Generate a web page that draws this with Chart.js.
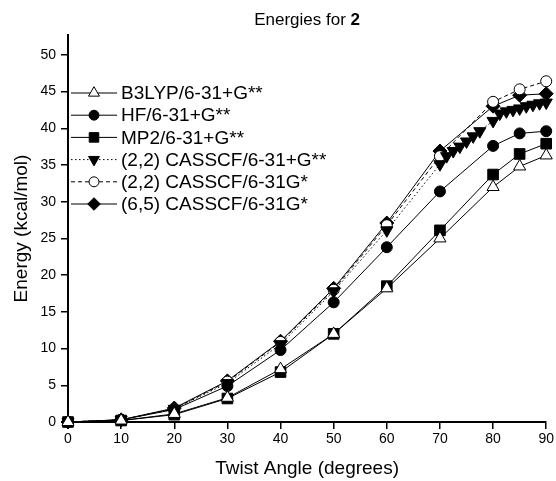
<!DOCTYPE html>
<html>
<head>
<meta charset="utf-8">
<script src="https://cdn.jsdelivr.net/npm/chart.js@4"></script>
<style>
  body { margin: 0; background: #fff; }
</style>
</head>
<body>
<canvas id="chartCanvas" width="556" height="481"></canvas>
<script>
// twist angles (degrees)
const angles = [0, 10, 20, 30, 40, 50, 60, 70, 80, 85, 90];
const anglesFine = [0, 10, 20, 30, 40, 50, 60, 70, 71.25, 72.5, 73.75, 75, 76.25, 77.5,
  80, 81.25, 82.5, 83.75, 85, 86.25, 87.5, 88.75, 90];

// energies, kcal/mol
const b3lyp = [0, 0.2, 1.1, 3.3, 7.2, 12.0, 18.2, 25.0, 32.0, 34.8, 36.3];
const hf = [0, 0.3, 1.7, 4.9, 9.8, 16.3, 23.8, 31.4, 37.6, 39.3, 39.6];
const mp2 = [0, 0.2, 1.0, 3.2, 6.8, 12.0, 18.5, 26.1, 33.7, 36.5, 37.9];
const cas22plus = [0, 0.3, 1.8, 5.3, 10.6, 17.8, 26.1, 35.1, 36.2, 36.9, 37.5, 38.2, 38.9, 39.6,
  41.0, 42.0, 42.3, 42.5, 42.7, 43.0, 43.2, 43.4, 43.5];
const cas22 = [0, 0.3, 1.8, 5.5, 10.9, 18.0, 26.8, 36.2, 43.6, 45.3, 46.4];
const cas65 = [0, 0.3, 1.9, 5.6, 11.0, 18.2, 27.1, 36.9, 43.0, 44.5, 44.7];

const xTicks = [0, 10, 20, 30, 40, 50, 60, 70, 80, 90];
const yTicks = [0, 5, 10, 15, 20, 25, 30, 35, 40, 45, 50];

const FONT = "'Liberation Sans', Arial, sans-serif";
Chart.defaults.font.family = FONT;
Chart.defaults.color = '#000';

const toXY = (xs, ys) => xs.map((x, i) => ({ x: x, y: ys[i] }));

const series = [
  { label: 'B3LYP/6-31+G**', data: toXY(angles, b3lyp), pointStyle: 'triangle', rotation: 0, pointRadius: 7, fill: '#fff', dash: [] },
  { label: 'HF/6-31+G**', data: toXY(angles, hf), pointStyle: 'circle', rotation: 0, pointRadius: 5.5, fill: '#000', dash: [] },
  { label: 'MP2/6-31+G**', data: toXY(angles, mp2), pointStyle: 'rect', rotation: 0, pointRadius: 7.5, fill: '#000', dash: [] },
  { label: '(2,2) CASSCF/6-31+G**', data: toXY(anglesFine, cas22plus), pointStyle: 'triangle', rotation: 180, pointRadius: 7, fill: '#000', dash: [1.5, 2.5] },
  { label: '(2,2) CASSCF/6-31G*', data: toXY(angles, cas22), pointStyle: 'circle', rotation: 0, pointRadius: 5.5, fill: '#fff', dash: [4, 3] },
  { label: '(6,5) CASSCF/6-31G*', data: toXY(angles, cas65), pointStyle: 'rectRot', rotation: 0, pointRadius: 7, fill: '#000', dash: [] }
];

const datasets = series.map(s => ({
  label: s.label,
  data: s.data,
  showLine: true,
  borderColor: '#000',
  borderWidth: 1,
  borderDash: s.dash,
  pointStyle: s.pointStyle,
  rotation: s.rotation,
  pointRadius: s.pointRadius,
  pointBackgroundColor: s.fill,
  pointBorderColor: '#000',
  pointBorderWidth: 1,
  clip: false
}));

// title with a bold "2"
const titlePlugin = {
  id: 'boldTitle',
  afterDraw(c) {
    const ctx = c.ctx;
    const a = c.chartArea;
    const part1 = 'Energies for ';
    const part2 = '2';
    ctx.save();
    ctx.font = '17px ' + FONT;
    const w1 = ctx.measureText(part1).width;
    ctx.font = 'bold 17px ' + FONT;
    const w2 = ctx.measureText(part2).width;
    let x = (a.left + a.right) / 2 - (w1 + w2) / 2;
    ctx.fillStyle = '#000';
    ctx.textBaseline = 'middle';
    ctx.textAlign = 'left';
    ctx.font = '17px ' + FONT;
    ctx.fillText(part1, x, 20);
    ctx.font = 'bold 17px ' + FONT;
    ctx.fillText(part2, x + w1, 20);
    ctx.restore();
  }
};

// legend inside the plot, line sample with the marker on it
const legendPlugin = {
  id: 'lineLegend',
  afterDraw(c) {
    const ctx = c.ctx;
    ctx.save();
    series.forEach((s, i) => {
      const y = 93 + i * 22.2;
      ctx.strokeStyle = '#000';
      ctx.lineWidth = 1;
      ctx.setLineDash(s.dash);
      ctx.beginPath();
      ctx.moveTo(71, y);
      ctx.lineTo(117, y);
      ctx.stroke();
      ctx.setLineDash([]);
      ctx.fillStyle = s.fill;
      ctx.strokeStyle = '#000';
      Chart.helpers.drawPoint(ctx, {
        pointStyle: s.pointStyle, rotation: s.rotation,
        radius: s.pointRadius * 0.9, borderWidth: 1
      }, 94, y);
      ctx.fillStyle = '#000';
      ctx.font = '19px ' + FONT;
      ctx.textBaseline = 'middle';
      ctx.textAlign = 'left';
      ctx.fillText(s.label, 121, y + 1);
    });
    ctx.restore();
  }
};

const chart = new Chart(document.getElementById('chartCanvas').getContext('2d'), {
  type: 'scatter',
  data: { datasets: datasets },
  plugins: [titlePlugin, legendPlugin],
  options: {
    responsive: false,
    animation: false,
    layout: { padding: { top: 35, right: 9, left: 0, bottom: 0 } },
    plugins: { legend: { display: false }, tooltip: { enabled: false } },
    scales: {
      x: {
        type: 'linear',
        min: 0,
        max: 90,
        afterBuildTicks: s => { s.ticks = xTicks.map(v => ({ value: v })); },
        afterFit: s => { s.height = 59; },
        ticks: { font: { size: 14 }, padding: 2, maxRotation: 0 },
        grid: { drawOnChartArea: false, drawTicks: true, tickLength: 7, color: '#000', lineWidth: 1.5 },
        border: { color: '#000', width: 2 },
        title: { display: true, text: 'Twist Angle (degrees)', font: { size: 19 }, padding: { top: 0, bottom: 1 } }
      },
      y: {
        type: 'linear',
        min: 0,
        max: 52.7,
        afterBuildTicks: s => { s.ticks = yTicks.map(v => ({ value: v })); },
        afterFit: s => { s.width = 68; },
        ticks: { font: { size: 14 }, padding: 5 },
        grid: { drawOnChartArea: false, drawTicks: true, tickLength: 7, color: '#000', lineWidth: 1.5 },
        border: { color: '#000', width: 2 },
        title: { display: true, text: 'Energy (kcal/mol)', font: { size: 19 }, padding: { top: 10, bottom: 0 } }
      }
    }
  }
});
</script>
</body>
</html>
